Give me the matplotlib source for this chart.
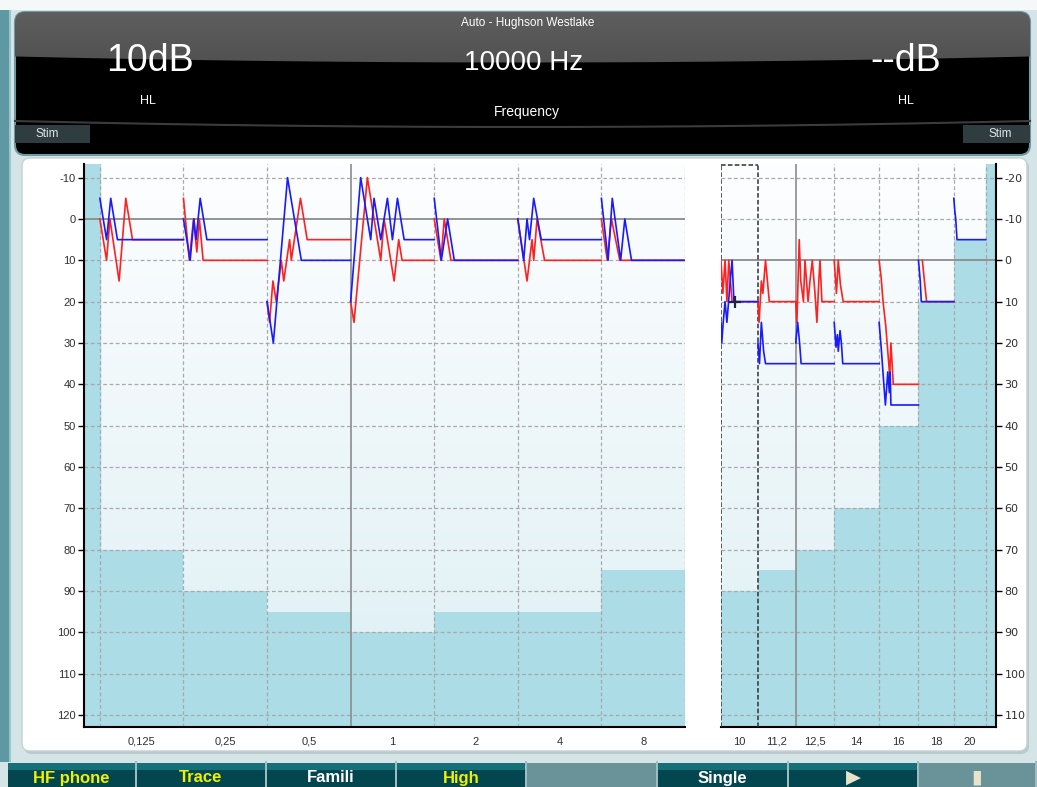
import numpy as np
import matplotlib
matplotlib.use("Agg")
import matplotlib.pyplot as plt
from matplotlib.patches import FancyBboxPatch, Rectangle
from matplotlib.colors import LinearSegmentedColormap

plt.rcParams["axes.unicode_minus"] = False

# ---- values ----
left_freqs = [0.125, 0.25, 0.5, 1, 2, 4, 8]
left_labels = ["0,125", "0,25", "0,5", "1", "2", "4", "8"]
left_max_out = [80, 90, 95, 100, 95, 95, 85]
left_yticks = list(range(-10, 121, 10))

right_freqs = [10, 11.2, 12.5, 14, 16, 18, 20]
right_labels = ["10", "11,2", "12,5", "14", "16", "18", "20"]
right_slot_edges = [9.42, 10.53, 11.8, 13.25, 15.17, 17.08, 19.0, 20.92]  # kHz
right_max_out = [80, 75, 70, 60, 40, 10, -5]
right_yticks = list(range(-20, 111, 10))

# traces per frequency slot: (time within slot 0..1, level dB HL)
red_left = [
    [(0, 0), (0.08, 10), (0.12, 0), (0.23, 15), (0.31, -5), (0.39, 5), (1, 5)],
    [(0, -5), (0.07, 10), (0.12, 0), (0.16, 8), (0.19, 0), (0.235, 10), (1, 10)],
    [(0, 20), (0.03, 25), (0.07, 15), (0.11, 20), (0.17, 10), (0.2, 15), (0.27, 5),
     (0.29, 10), (0.4, -5), (0.48, 5), (1, 5)],
    [(0, 20), (0.04, 25), (0.2, -10), (0.36, 10), (0.4, 0), (0.52, 15), (0.575, 5),
     (0.615, 10), (1, 10)],
    [(0, 0), (0.08, 10), (0.12, 0), (0.2, 10), (1, 10)],
    [(0, 0), (0.11, 15), (0.17, 5), (0.19, 10), (0.23, 0), (0.32, 10), (1, 10)],
    [(0, 0), (0.07, 10), (0.12, 0), (0.22, 10), (1, 10)],
]
blue_left = [
    [(0, -5), (0.08, 5), (0.13, -5), (0.21, 5), (1, 5)],
    [(0, 0), (0.08, 10), (0.125, 0), (0.15, 5), (0.2, -5), (0.28, 5), (1, 5)],
    [(0, 20), (0.075, 30), (0.245, -10), (0.41, 10), (1, 10)],
    [(0, 20), (0.12, -10), (0.24, 5), (0.28, -5), (0.36, 5), (0.44, -5), (0.5, 5),
     (0.56, -5), (0.64, 5), (1, 5)],
    [(0, -5), (0.085, 10), (0.16, 0), (0.24, 10), (1, 10)],
    [(0, 0), (0.07, 10), (0.11, 0), (0.14, 5), (0.19, -5), (0.28, 5), (1, 5)],
    [(0, -5), (0.08, 10), (0.13, -5), (0.23, 10), (0.28, 0), (0.36, 10), (1, 10)],
]
red_right = [
    [(0, 0), (0.05, 8), (0.11, 0), (0.16, 10), (0.21, 0), (0.3, 10), (1, 10)],
    [(0, 10), (0.03, 15), (0.09, 5), (0.13, 8), (0.2, 0), (0.3, 10), (1, 10)],
    [(0, 10), (0.03, 15), (0.09, -5), (0.13, 5), (0.2, 10), (0.24, 0), (0.32, 10),
     (0.37, 5), (0.43, 0), (0.5, 8), (0.55, 15), (0.6, 5), (0.63, 0), (0.68, 10), (1, 10)],
    [(0, 0), (0.05, 8), (0.09, 0), (0.14, 6), (0.2, 10), (1, 10)],
    [(0, 0), (0.05, 4), (0.1, 10), (0.17, 16), (0.22, 22), (0.27, 28), (0.3, 20),
     (0.36, 30), (1, 30)],
    [(0.11, 0), (0.18, 6), (0.23, 10), (1, 10)],
    [],
]
blue_right = [
    [(0, 15), (0.02, 20), (0.06, 15), (0.11, 10), (0.16, 15), (0.25, 5), (0.3, 0),
     (0.35, 10), (1, 10)],
    [(0, 20), (0.04, 25), (0.09, 15), (0.15, 22), (0.2, 25), (1, 25)],
    [(0, 20), (0.05, 15), (0.1, 20), (0.14, 25), (1, 25)],
    [(0, 15), (0.04, 21), (0.07, 18), (0.09, 22), (0.13, 17), (0.16, 20), (0.19, 25), (1, 25)],
    [(0, 15), (0.06, 22), (0.12, 30), (0.16, 35), (0.22, 27), (0.26, 32), (0.28, 27),
     (0.3, 35), (1, 35)],
    [(0, 0), (0.05, 5), (0.08, 10), (1, 10)],
    [(0, -15), (0.03, -12), (0.06, -10), (0.1, -5), (1, -5)],
]
cursor_slot = 0      # 10 kHz
cursor_t = 0.38
cursor_level = 10

header_title = "Auto - Hughson Westlake"
left_level = "10dB"
freq_text = "10000 Hz"
right_level = "--dB"
buttons = ["HF phone", "Trace", "Famili", "High", "", "Single", "\u25B6", "\u25AE"]
button_colors = ["#f0f000", "#f0f000", "white", "#f0f000", "white", "white", "#e8e4cc", "#e8e4cc"]

W, H = 1037, 787
BAR = "#acdce6"
RED = "#ff2020"
BLUE = "#1a1aff"
FONT = "Liberation Sans"

fig = plt.figure(figsize=(W / 100, H / 100), dpi=100)
fig.patch.set_facecolor("#d4e4e7")

bg = fig.add_axes([0, 0, 1, 1])
bg.axis("off")


def px_axes(x0, y0, x1, y1):
    return fig.add_axes([x0 / W, 1 - y1 / H, (x1 - x0) / W, (y1 - y0) / H])


# outer frame
bg.add_patch(Rectangle((0, 0), W, 10, fc="#f4f8f9", ec="none", zorder=1))
bg.add_patch(Rectangle((0, 10), 9, 752, fc="#5d98a3", ec="none", zorder=1))
bg.add_patch(Rectangle((9, 10), 2, 752, fc="#9cc4cb", ec="none", zorder=1))

# ---- header panel ----
head = FancyBboxPatch((15, 12), 1015, 143, boxstyle="round,pad=0,rounding_size=10",
                      fc="black", ec="#6f9aa2", lw=1.5, zorder=1)
bg.add_patch(head)
xs = np.arange(15, 1031)
ys = np.arange(12, 156) + 0.5
curve = 57 + 6 * (1 - ((xs - 522) / 507.0) ** 2)
rgba = np.zeros((len(ys), len(xs), 4))
shade = np.linspace(0.37, 0.22, len(ys))[:, None]
rgba[..., 0] = shade
rgba[..., 1] = shade
rgba[..., 2] = shade
rgba[..., 3] = np.clip(curve[None, :] - ys[:, None], 0, 1)
im = bg.imshow(rgba, extent=[15, 1031, 156, 12], aspect="auto", zorder=2, interpolation="bilinear")
im.set_clip_path(head)
arc = 121 + 6 * (1 - ((xs - 522) / 507.0) ** 2)
bg.plot(xs, arc, color="#3c3c3c", lw=1.5, zorder=3)

for x0, x1, tx in [(15, 90, 47), (963, 1030, 1000)]:
    bg.add_patch(Rectangle((x0, 125), x1 - x0, 18, fc="#2f3c40", ec="none", zorder=4))
    bg.text(tx, 134, "Stim", color="#e0e6e8", fontsize=8.5, family=FONT,
            ha="center", va="center", zorder=5)

bg.text(528, 23, header_title, color="white", fontsize=8.5, family=FONT, ha="center", va="center", zorder=5)
bg.text(150, 61, left_level, color="white", fontsize=27, family=FONT, ha="center", va="center", zorder=5)
bg.text(524, 63, freq_text, color="white", fontsize=20, family=FONT, ha="center", va="center", zorder=5)
bg.text(906, 61, right_level, color="white", fontsize=27, family=FONT, ha="center", va="center", zorder=5)
bg.text(148, 101, "HL", color="white", fontsize=9, family=FONT, ha="center", va="center", zorder=5)
bg.text(906, 101, "HL", color="white", fontsize=9, family=FONT, ha="center", va="center", zorder=5)
bg.text(527, 112, "Frequency", color="white", fontsize=10, family=FONT, ha="center", va="center", zorder=5)

# ---- chart panel ----
bg.add_patch(FancyBboxPatch((24, 160), 1005, 594, boxstyle="round,pad=0,rounding_size=8",
                            fc="#b9c9cc", ec="none", zorder=1))
bg.add_patch(FancyBboxPatch((22, 158), 1005, 593, boxstyle="round,pad=0,rounding_size=8",
                            fc="white", ec="#c4d2d5", lw=1, zorder=2))

# ---- bottom buttons ----
btn_x = [8, 137, 267, 397, 527, 658, 789, 919, 1037]
for i, lab in enumerate(buttons):
    x0, x1 = btn_x[i], btn_x[i + 1] - 2
    if i in (4, 7):
        bg.add_patch(Rectangle((x0, 763), x1 - x0, 24, fc="#6a9399", ec="none", zorder=2))
    else:
        bg.add_patch(Rectangle((x0, 763), x1 - x0, 24, fc="#034650", ec="none", zorder=2))
        bg.add_patch(Rectangle((x0, 763), x1 - x0, 7, fc="#15707a", ec="none", zorder=3))
    bg.add_patch(Rectangle((x1, 761), 2, 26, fc="#9fbcc0", ec="none", zorder=3))
    fs = 14 if i >= 6 else 12
    bg.text((x0 + x1) / 2, 778, lab, color=button_colors[i], fontsize=fs, weight="bold",
            family=[FONT, "DejaVu Sans"], ha="center", va="center", zorder=4)

bg.set_xlim(0, W)
bg.set_ylim(H, 0)


def slot_edges(freqs):
    c = np.log2(freqs)
    mids = (c[1:] + c[:-1]) / 2
    return np.concatenate([[2 * c[0] - mids[0]], mids, [2 * c[-1] - mids[-1]]])


def draw_panel(ax, edges, labels, max_out, yticks, reds, blues, ylim, xlim, side):
    cmap = LinearSegmentedColormap.from_list("bgfade", ["#fdfeff", "#ddeff4"])
    ax.imshow(np.linspace(0, 1, 256)[:, None], cmap=cmap, aspect="auto",
              extent=[xlim[0], xlim[1], ylim[0], ylim[1]], zorder=0)
    ax.bar(edges[:-1], [ylim[0] + 5 - m for m in max_out], width=np.diff(edges),
           bottom=max_out, align="edge", color=BAR, zorder=1)
    if side == "left":
        ax.axvspan(xlim[0], edges[0], color=BAR, zorder=1)
    else:
        ax.axvspan(edges[-1], xlim[1], color=BAR, zorder=1)

    for v in yticks:
        if v == 0:
            ax.axhline(v, color="#8c8c8c", lw=1.3, zorder=2)
        else:
            ax.axhline(v, color="#a9a9a9", lw=0.9, ls=(0, (3, 2)), zorder=2)
    for k, e in enumerate(edges):
        if side == "left" and k == 3:
            ax.axvline(e, color="#8c8c8c", lw=1.2, zorder=2)
        elif side == "right" and k == 2:
            ax.axvline(e, color="#8c8c8c", lw=1.2, zorder=2)
        elif side == "right" and k in (0, 1):
            ax.axvline(e, color="#303030", lw=1.1, ls=(0, (3, 1.5)), zorder=3)
        else:
            ax.axvline(e, color="#a9a9a9", lw=0.9, ls=(0, (3, 2)), zorder=2)
    if side == "right":
        ax.plot([edges[0], edges[1]], [ylim[1] + 0.2, ylim[1] + 0.2], color="#303030",
                lw=1.1, ls=(0, (3, 1.5)), zorder=3, clip_on=False)

    for traces, col in ((reds, RED), (blues, BLUE)):
        for i, tr in enumerate(traces):
            if not tr:
                continue
            t, db = zip(*tr)
            x = edges[i] + np.array(t) * (edges[i + 1] - edges[i])
            ax.plot(x, db, color=col, lw=1.2, zorder=4)

    ax.set_xlim(xlim)
    ax.set_ylim(ylim)
    ax.set_xticks((edges[:-1] + edges[1:]) / 2)
    ax.set_xticklabels(labels)
    ax.set_yticks(yticks)
    ax.tick_params(axis="x", length=0, pad=7, labelsize=8, labelcolor="#303030")
    ax.tick_params(axis="y", length=4, width=1, pad=2, labelsize=8, labelcolor="#303030")
    for lab in ax.get_xticklabels() + ax.get_yticklabels():
        lab.set_family(FONT)
    for s in ax.spines.values():
        s.set_visible(False)
    ax.spines["bottom"].set_visible(True)
    ax.spines["bottom"].set_linewidth(1.5)
    if side == "left":
        ax.spines["left"].set_visible(True)
        ax.spines["left"].set_linewidth(1.5)
    else:
        ax.spines["right"].set_visible(True)
        ax.spines["right"].set_linewidth(1.5)
        ax.yaxis.tick_right()


edL = slot_edges(left_freqs)
axL = px_axes(84, 164, 685, 727)
axL.set_zorder(2)
draw_panel(axL, edL, left_labels, left_max_out, left_yticks, red_left, blue_left,
           (122.9, -13.3), (edL[0] - 0.19, edL[-1]), "left")

edR = np.log2(right_slot_edges)
axR = px_axes(721, 164, 996, 727)
axR.set_zorder(2)
draw_panel(axR, edR, right_labels, right_max_out, right_yticks, red_right, blue_right,
           (112.9, -23.3), (edR[0], edR[0] + 1.1956), "right")
cx = edR[cursor_slot] + cursor_t * (edR[cursor_slot + 1] - edR[cursor_slot])
axR.plot([cx], [cursor_level], marker="+", ms=9, mew=1.6, color="#1c2448", zorder=5)

fig.savefig("out.png", dpi=100, facecolor=fig.get_facecolor())
